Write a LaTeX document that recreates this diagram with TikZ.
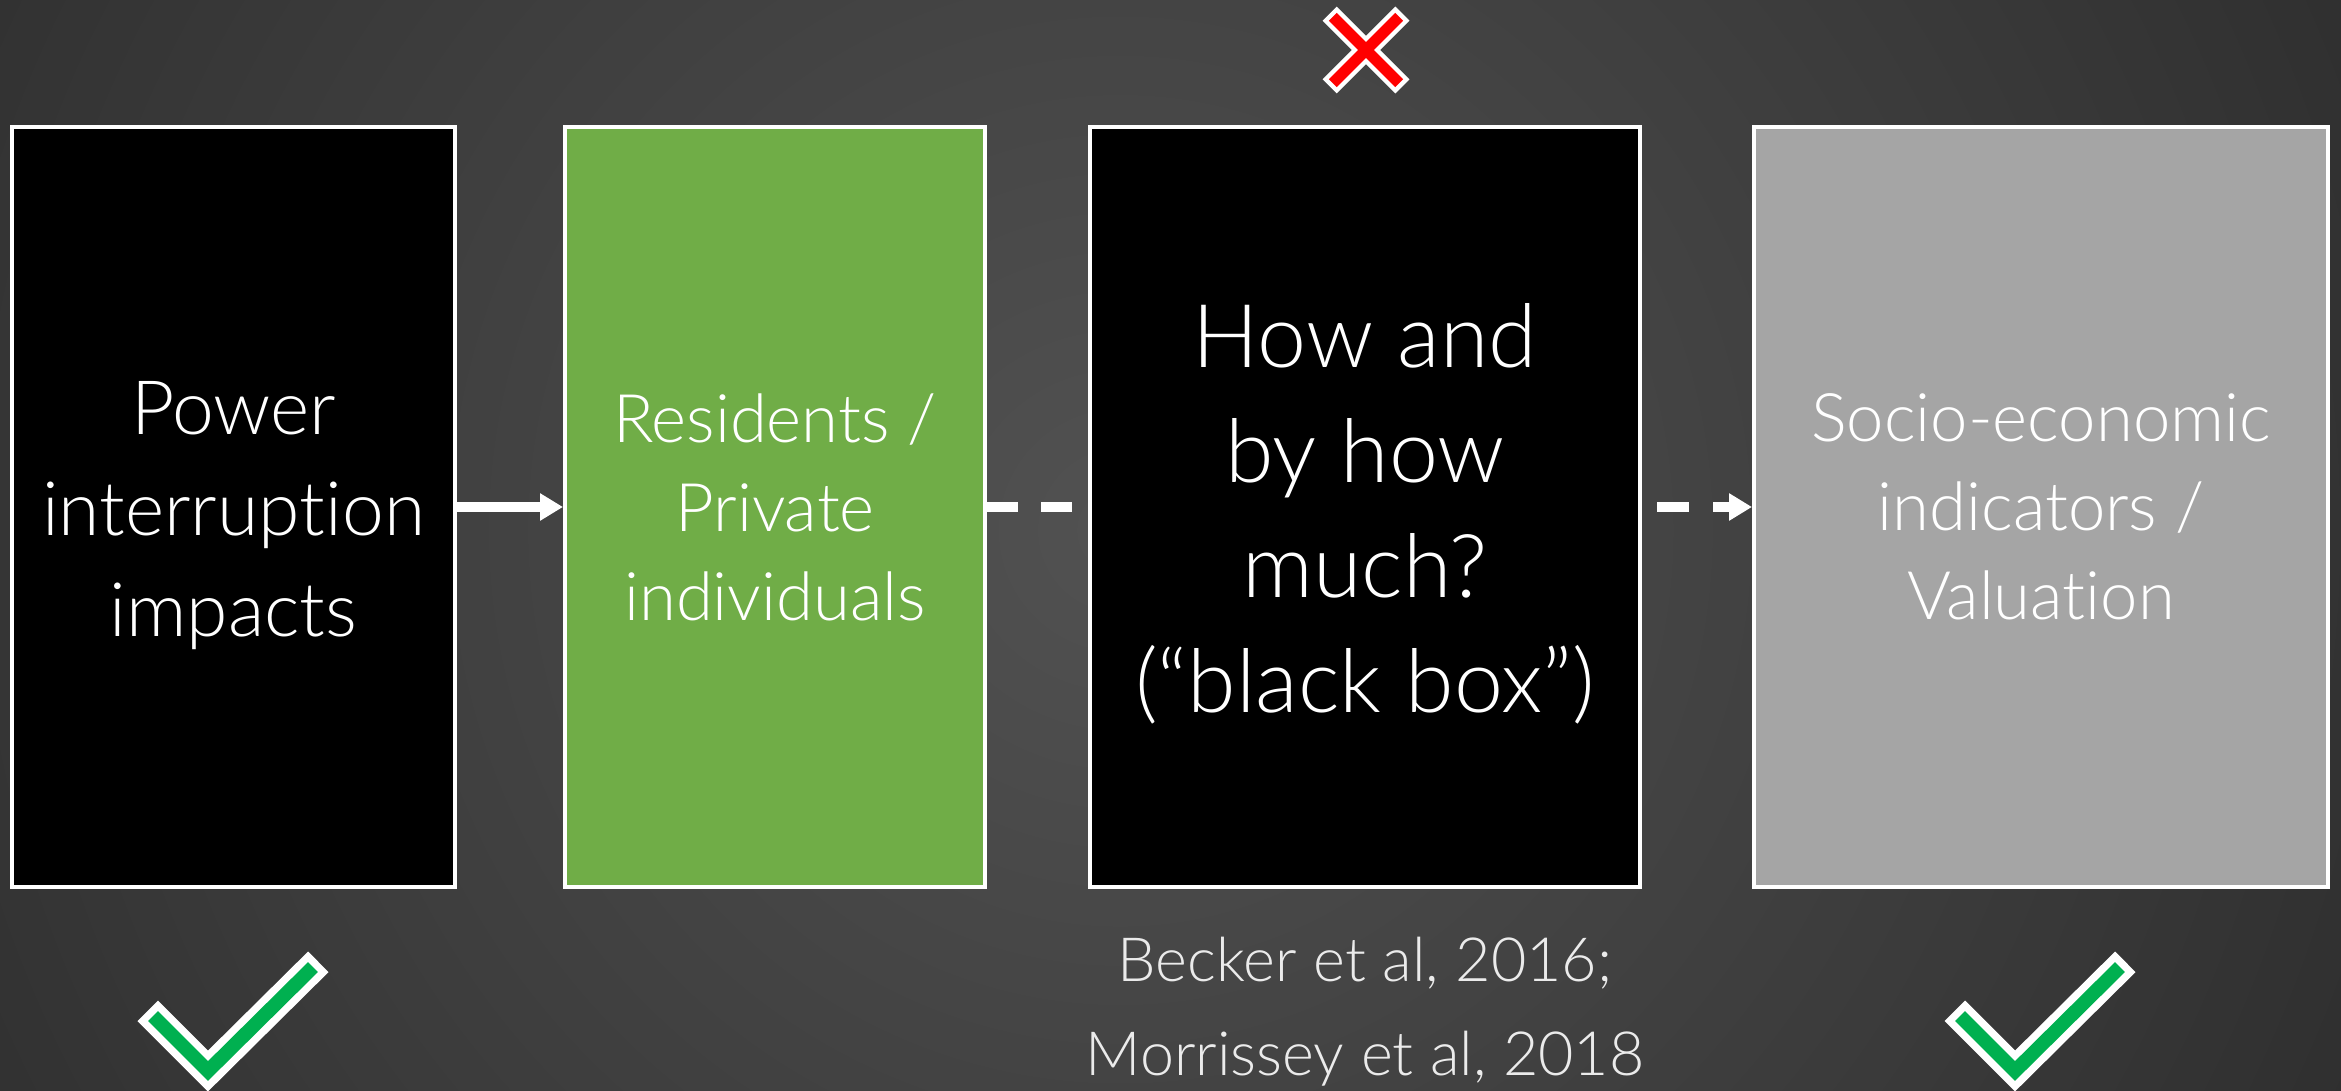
\documentclass[tikz,border=0pt]{standalone}
\usepackage{fontspec}
\setmainfont{Lato}[UprightFont={* Light}, Ligatures={NoCommon}]
\usetikzlibrary{arrows.meta}
\definecolor{bgin}{gray}{0.32}
\definecolor{bgout}{gray}{0.04}
\definecolor{boxgreen}{HTML}{70AD47}
\definecolor{boxgray}{HTML}{A5A5A5}
\definecolor{checkgreen}{HTML}{00B050}
\definecolor{citecol}{gray}{0.92}
\pgfdeclareradialshading{bgrad}{\pgfpoint{0bp}{0bp}}{color(0bp)=(bgin); color(50bp)=(bgout)}
\tikzset{
  stagebox/.style={draw=white, line width=4pt, inner sep=0pt, minimum height=760pt},
  txt/.style={text=white, align=center, inner sep=0pt},
  conn/.style={white, line width=10pt},
  tipA/.style={-{Triangle[length=23pt,width=26pt]}},
  dashA/.style={dash pattern=on 31pt off 23pt},
  dashB/.style={dash pattern=on 32pt off 24pt, dash phase=41pt},
  markwhite/.style={white, line cap=rect, line join=miter},
}
\begin{document}
\begin{tikzpicture}[x=1pt, y=-1pt]
\useasboundingbox (0,0) rectangle (2341,1091);
\begin{scope}
  \clip (0,0) rectangle (2341,1091);
  \shade[shading=bgrad] (1120,530) circle[radius=1400pt];
\end{scope}

% boxes
\node[stagebox, fill=black, minimum width=443pt] (b1) at (233.5,507) {};
\node[stagebox, fill=boxgreen, minimum width=420pt] (b2) at (775,507) {};
\node[stagebox, fill=black, minimum width=550pt] (b3) at (1365,507) {};
\node[stagebox, fill=boxgray, minimum width=574pt] (b4) at (2041,507) {};

% texts
\node[txt, font={\fontsize{75}{101}\selectfont}] (t1) at (233.5,516) {Power\\interruption\\impacts};
\node[txt, font={\fontsize{67}{89}\selectfont}] (t2) at (775,507) {Residents /\\Private\\individuals};
\node[txt, font={\fontsize{88}{115}\selectfont}] (t3) at (1365,514) {How and\\by how\\much?\\(“black box”)};
\node[txt, font={\fontsize{67}{89}\selectfont}] (t4) at (2041,507) {Socio-economic\\indicators /\\Valuation};
\node[txt, text=citecol, font={\fontsize{61}{94}\selectfont}] (cite) at (1365,1012) {Becker et al, 2016;\\Morrissey et al, 2018};

% connectors
\draw[conn, tipA] (b1.east) -- (b2.west);
\draw[conn, dashA] (b2.east) -- (b3.west);
\draw[conn, dashB, tipA] (b3.east) -- (b4.west);

% red cross
\coordinate (xc) at (1366,50);
\draw[markwhite, line width=20pt] ([shift={(-29.3,-29.3)}]xc) -- ([shift={(29.3,29.3)}]xc)
      ([shift={(29.3,-29.3)}]xc) -- ([shift={(-29.3,29.3)}]xc);
\draw[red, line cap=rect, line width=11pt] ([shift={(-29.3,-29.3)}]xc) -- ([shift={(29.3,29.3)}]xc)
      ([shift={(29.3,-29.3)}]xc) -- ([shift={(-29.3,29.3)}]xc);

% check marks
\foreach \cx in {208,2015}{
  \draw[markwhite, line width=29pt] (\cx-50,1021) -- (\cx,1071) -- (\cx+100,972);
  \draw[checkgreen, line cap=rect, line join=miter, line width=14pt] (\cx-50,1021) -- (\cx,1071) -- (\cx+100,972);
}
\end{tikzpicture}
\end{document}
